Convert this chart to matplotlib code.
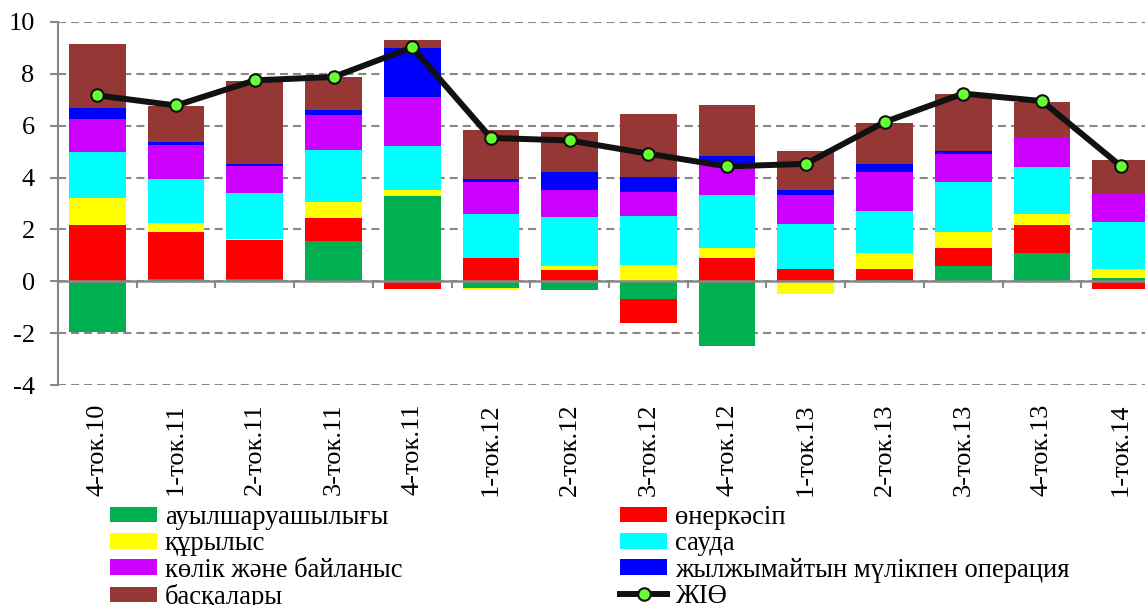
import matplotlib
matplotlib.use('Agg')
import matplotlib.pyplot as plt
import numpy as np
from matplotlib.patches import Patch
from matplotlib.lines import Line2D

plt.rcParams['font.family'] = ['Liberation Serif', 'DejaVu Serif']
plt.rcParams['axes.unicode_minus'] = False
plt.rcParams['lines.scale_dashes'] = False

categories = ['4-ток.10', '1-ток.11', '2-ток.11', '3-ток.11', '4-ток.11', '1-ток.12', '2-ток.12',
              '3-ток.12', '4-ток.12', '1-ток.13', '2-ток.13', '3-ток.13', '4-ток.13', '1-ток.14']

agriculture  = [-1.96, 0.10, 0.07, 1.55, 3.30, -0.24, -0.35, -0.70, -2.51, 0.00, 0.05, 0.59, 1.10, 0.12]
industry     = [2.17, 1.81, 1.52, 0.90, -0.28, 0.90, 0.43, -0.90, 0.90, 0.49, 0.44, 0.70, 1.07, -0.28]
construction = [1.06, 0.33, 0.04, 0.60, 0.23, -0.08, 0.16, 0.61, 0.39, -0.50, 0.61, 0.62, 0.43, 0.35]
trade        = [1.74, 1.71, 1.79, 2.00, 1.70, 1.70, 1.90, 1.91, 2.02, 1.72, 1.61, 1.90, 1.81, 1.81]
transport    = [1.27, 1.32, 1.01, 1.38, 1.89, 1.21, 1.04, 0.93, 1.25, 1.10, 1.50, 1.10, 1.17, 1.09]
real_estate  = [0.45, 0.09, 0.09, 0.16, 1.86, 0.13, 0.68, 0.57, 0.26, 0.22, 0.30, 0.10, 0.00, 0.00]
others       = [2.46, 1.40, 3.21, 1.29, 0.33, 1.89, 1.55, 2.45, 1.99, 1.48, 1.60, 2.20, 1.33, 1.30]
gdp          = [7.17, 6.78, 7.75, 7.88, 9.02, 5.53, 5.43, 4.92, 4.43, 4.53, 6.14, 7.24, 6.95, 4.45]

series = [
    ('ауылшаруашылығы', agriculture, '#00B050'),
    ('өнеркәсіп', industry, '#FF0000'),
    ('құрылыс', construction, '#FFFF00'),
    ('сауда', trade, '#00FFFF'),
    ('көлік және байланыс', transport, '#CC00FF'),
    ('жылжымайтын мүлікпен операция', real_estate, '#0000FF'),
    ('басқалары', others, '#953735'),
]
gdp_label = 'ЖІӨ'

W, H = 1145, 605
fig = plt.figure(figsize=(W / 100, H / 100), dpi=100)
ax = fig.add_axes([58 / W, 220 / H, 1102 / W, 363 / H])

x = np.arange(len(categories))
pos_base = np.zeros(len(categories))
neg_base = np.zeros(len(categories))
handles = {}
for name, vals, col in series:
    v = np.array(vals, dtype=float)
    pos = np.where(v > 0, v, 0)
    neg = np.where(v < 0, v, 0)
    ax.bar(x, pos, bottom=pos_base, width=0.72, color=col, edgecolor='none', zorder=2)
    ax.bar(x, neg, bottom=neg_base, width=0.72, color=col, edgecolor='none', zorder=2)
    pos_base += pos
    neg_base += neg
    handles[name] = Patch(facecolor=col, edgecolor='none')

ax.plot(x, gdp, color='#111111', lw=4.3, marker='o', markersize=9, markerfacecolor='#66FF33',
        markeredgecolor='#111111', markeredgewidth=1.5, zorder=5)

ax.set_xlim(-0.5, len(categories) - 0.5)
ax.set_ylim(-4, 10)
ax.set_yticks(np.arange(-4, 11, 2))
ax.yaxis.grid(True, color='#888888', lw=1.5, ls=(0, (5.8, 3.6)), zorder=0)
ax.set_axisbelow(True)

for s in ['top', 'right']:
    ax.spines[s].set_visible(False)
ax.spines['left'].set_color('#888888')
ax.spines['left'].set_linewidth(1.5)
ax.spines['bottom'].set_position(('data', 0))
ax.spines['bottom'].set_color('#888888')
ax.spines['bottom'].set_linewidth(1.8)
ax.spines['bottom'].set_zorder(4)

ax.set_xticks(x)
ax.set_xticklabels(categories, rotation=90, fontsize=19)
ax.set_xticks(np.arange(-0.5, len(categories), 1), minor=True)
ax.tick_params(axis='x', which='major', length=0, pad=88)
ax.tick_params(axis='x', which='minor', length=5, width=1.5, color='#888888', direction='out')
ax.tick_params(axis='y', length=5.8, width=1.5, color='#888888', labelsize=19, pad=11)

names = [s[0] for s in series]
col1 = [names[0], names[2], names[4], names[6]]
col2 = [names[1], names[3], names[5]]
gdp_handle = Line2D([0], [0], color='#111111', lw=4.3, marker='o', markersize=9,
                    markerfacecolor='#66FF33', markeredgecolor='#111111', markeredgewidth=1.5)

common = dict(loc='upper left', frameon=False, borderpad=0, borderaxespad=0, fontsize=19.2,
              handlelength=1.78, handleheight=0.53, handletextpad=0.28, labelspacing=0.05)
leg1 = fig.legend([handles[n] for n in col1], col1, bbox_to_anchor=(110 / W, 1 - 505 / H), **common)
leg2 = fig.legend([handles[n] for n in col2] + [gdp_handle], col2 + [gdp_label],
                  bbox_to_anchor=(620 / W, 1 - 505 / H), **common)

fig.savefig('out.png', dpi=100)
